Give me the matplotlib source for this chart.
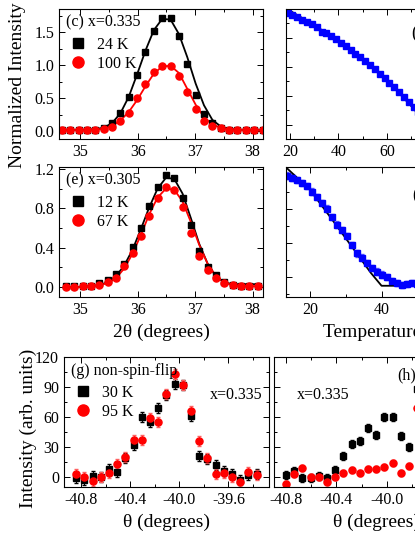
import numpy as np
import matplotlib
matplotlib.use('Agg')
import matplotlib.pyplot as plt
from matplotlib.lines import Line2D
from matplotlib.ticker import MultipleLocator

plt.rcParams['font.family'] = ['Liberation Serif', 'DejaVu Serif']
plt.rcParams['mathtext.fontset'] = 'stix'

# ---- (c) x=0.335, 2theta scans
c_tth = [34.68 + 0.1455 * i for i in range(25)]
c_24K = [0.02, 0.02, 0.02, 0.02, 0.02, 0.05, 0.13, 0.27, 0.51, 0.85, 1.20, 1.52,
         1.72, 1.71, 1.44, 1.01, 0.55, 0.26, 0.12, 0.05, 0.02, 0.02, 0.02, 0.02, 0.02]
c_100K = [0.02, 0.02, 0.02, 0.02, 0.02, 0.03, 0.065, 0.16, 0.28, 0.50, 0.71, 0.90,
          0.98, 0.98, 0.84, 0.59, 0.33, 0.16, 0.07, 0.04, 0.02, 0.02, 0.02, 0.02, 0.02]
c_24K_fit = [0.02, 0.02, 0.02, 0.02, 0.03, 0.05, 0.12, 0.27, 0.52, 0.86, 1.22, 1.53,
             1.70, 1.69, 1.47, 1.12, 0.72, 0.39, 0.17, 0.07, 0.03, 0.02, 0.02, 0.02, 0.02]
c_100K_fit = [0.02, 0.02, 0.02, 0.02, 0.02, 0.04, 0.08, 0.16, 0.29, 0.47, 0.68, 0.87,
              0.98, 0.99, 0.88, 0.64, 0.40, 0.21, 0.10, 0.05, 0.03, 0.02, 0.02, 0.02, 0.02]

# ---- (e) x=0.305
e_tth = [34.75 + 0.145 * i for i in range(24)]
e_12K = [0.01, 0.01, 0.01, 0.015, 0.045, 0.07, 0.13, 0.24, 0.41, 0.60, 0.82, 1.02,
         1.14, 1.105, 0.91, 0.63, 0.37, 0.20, 0.12, 0.05, 0.02, 0.01, 0.01, 0.01]
e_67K = [0.005, 0.005, 0.01, 0.015, 0.02, 0.055, 0.095, 0.21, 0.35, 0.52, 0.72, 0.91,
         1.02, 0.99, 0.81, 0.55, 0.32, 0.17, 0.09, 0.045, 0.02, 0.01, 0.01, 0.01]
e_12K_fit = [0.0, 0.0, 0.005, 0.01, 0.02, 0.05, 0.11, 0.22, 0.38, 0.59, 0.81, 1.00,
             1.11, 1.10, 0.95, 0.70, 0.44, 0.24, 0.11, 0.05, 0.03, 0.03, 0.03, 0.03]
e_67K_fit = [0.0, 0.0, 0.0, 0.01, 0.02, 0.04, 0.09, 0.19, 0.34, 0.53, 0.74, 0.91,
             1.00, 0.99, 0.87, 0.66, 0.43, 0.24, 0.11, 0.05, 0.02, 0.01, 0.01, 0.01]

# ---- (d) temperature dependence
d_T = [19, 21, 23, 25, 27, 29, 31, 33, 35, 37, 39, 41, 43, 45, 47, 49, 51, 53, 55,
       57, 59, 61, 63, 65, 67, 69, 71, 73]
d_I = [4.86, 4.79, 4.72, 4.62, 4.55, 4.48, 4.38, 4.20, 4.17, 4.06, 3.96, 3.82, 3.72,
       3.58, 3.44, 3.34, 3.20, 3.06, 2.92, 2.75, 2.61, 2.44, 2.30, 2.13, 1.95, 1.78,
       1.61, 1.43]
d_fit_T = [18.2, 25, 30, 35, 40, 45, 50, 55, 60, 65, 70, 75]
d_fit_I = [5.03, 4.69, 4.44, 4.17, 3.89, 3.58, 3.27, 2.89, 2.51, 2.09, 1.64, 1.16]

# ---- (f) temperature dependence
f_T = [13.7, 15.0, 16.4, 17.8, 19.2, 20.6, 22.0, 23.4, 24.8, 26.2, 27.6, 29.0, 30.4,
       31.8, 33.2, 34.6, 36.0, 37.4, 38.8, 40.2, 41.6, 43.0, 44.4, 45.8, 47.2, 48.6, 50.0]
f_I = [3.98, 3.92, 3.86, 3.77, 3.68, 3.51, 3.36, 3.18, 3.01, 2.77, 2.54, 2.39, 2.21,
       1.95, 1.71, 1.57, 1.42, 1.27, 1.16, 1.07, 1.01, 0.89, 0.83, 0.77, 0.80, 0.83, 0.80]
f_fit_T = [13.2, 20, 26.5, 33, 37, 40, 75]
f_fit_I = [4.24, 3.57, 2.65, 1.71, 1.13, 0.75, 0.75]

# ---- (g) non-spin-flip theta scans
g_th = [-40.84 + 0.0668 * i for i in range(23)]
g_30K = [-1, -3, 1.3, 0.3, 7.7, 5.3, 19, 32, 60, 55, 68.7, 82, 93, 92, 61, 21, 17.7,
         12, 6.3, 2.7, -3, 2.3, 3]
g_95K = [2.7, 0.3, -4, 0, 3.7, 12.7, 19.7, 37, 37, 58.7, 55.3, 82.7, 102.7, 92, 66,
         36, 18.7, 2.7, 3.7, 0.3, -4.7, 4.7, 2]

# ---- (h) theta scans
h_th = [-40.80 + 0.065 * i for i in range(17)]
h_30K = [2, 6.3, -0.7, -0.7, 1.3, -0.7, 7, 21.3, 32.7, 36, 49.3, 42, 60.3, 59.7, 41,
         29.7, 87.7]
h_95K = [-7, 2.7, 9.3, 0.3, 0.3, -5.3, 0.3, 4.3, 7, 3.7, 8, 7.7, 10.3, 14.3, 4.3, 11,
         68.7]

W, H = 415, 537
fig = plt.figure(figsize=(W / 100, H / 100), dpi=100)

def box(l, t, r, b):
    return [l / W, 1 - b / H, (r - l) / W, (b - t) / H]

ax_c = fig.add_axes(box(59, 9, 263, 139))
ax_d = fig.add_axes(box(286, 9, 490, 139))
ax_e = fig.add_axes(box(59, 167, 263, 297))
ax_f = fig.add_axes(box(286, 167, 490, 297))
ax_g = fig.add_axes(box(64, 357, 269, 487))
ax_h = fig.add_axes(box(274, 357, 479, 487))

TS = 11.5
for ax in [ax_c, ax_d, ax_e, ax_f, ax_g, ax_h]:
    ax.tick_params(which='both', direction='in', top=True, right=True,
                   labelsize=TS, width=0.7)
    ax.tick_params(which='major', length=4)
    ax.tick_params(which='minor', length=2)
    for s in ax.spines.values():
        s.set_linewidth(0.8)

ms = 4.6
# (c)
ax_c.plot(c_tth, c_24K_fit, '-', color='black', lw=1.3)
ax_c.plot(c_tth, c_100K_fit, '-', color='red', lw=1.3)
ax_c.plot(c_tth, c_24K, 's', color='black', ms=ms)
ax_c.plot(c_tth, c_100K, 'o', color='red', ms=ms + 0.5)
ax_c.set_xlim(34.63, 38.18)
ax_c.set_ylim(-0.12, 1.85)
ax_c.xaxis.set_major_locator(MultipleLocator(1))
ax_c.xaxis.set_minor_locator(MultipleLocator(0.5))
ax_c.yaxis.set_minor_locator(MultipleLocator(0.25))
ax_c.set_yticks([0, 0.5, 1.0, 1.5])
ax_c.set_yticklabels(['0.0', '0.5', '1.0', '1.5'])

# (e)
ax_e.plot(e_tth, e_12K_fit, '-', color='black', lw=1.3)
ax_e.plot(e_tth, e_67K_fit, '-', color='red', lw=1.3)
ax_e.plot(e_tth, e_12K, 's', color='black', ms=ms)
ax_e.plot(e_tth, e_67K, 'o', color='red', ms=ms + 0.5)
ax_e.set_xlim(34.63, 38.18)
ax_e.set_ylim(-0.1, 1.22)
ax_e.xaxis.set_major_locator(MultipleLocator(1))
ax_e.xaxis.set_minor_locator(MultipleLocator(0.5))
ax_e.set_yticks([0, 0.4, 0.8, 1.2])
ax_e.set_yticklabels(['0.0', '0.4', '0.8', '1.2'])
ax_e.yaxis.set_minor_locator(MultipleLocator(0.2))
ax_e.set_xlabel('2θ (degrees)', fontsize=14, labelpad=4)

# (d)
ax_d.errorbar(d_T, d_I, yerr=0.05, fmt='s', color='blue', ms=ms, ecolor='#5a5aff',
              elinewidth=0.8, capsize=1.5)
ax_d.plot(d_fit_T, d_fit_I, '-', color='black', lw=1.3)
ax_d.set_xlim(18.35, 102.5)
ax_d.set_ylim(0.5, 5.0)
ax_d.xaxis.set_major_locator(MultipleLocator(20))
ax_d.xaxis.set_minor_locator(MultipleLocator(10))
ax_d.yaxis.set_major_locator(MultipleLocator(1))
ax_d.yaxis.set_minor_locator(MultipleLocator(0.5))
ax_d.tick_params(axis='y', labelleft=False)
ax_d.text(0.615, 0.815, '(d)', transform=ax_d.transAxes, fontsize=13, va='center')

# (f)
ax_f.errorbar(f_T, f_I, yerr=0.1, fmt='s', color='blue', ms=ms, ecolor='#5a5aff',
              elinewidth=0.8, capsize=1.5)
ax_f.plot(f_fit_T, f_fit_I, '-', color='black', lw=1.3)
ax_f.set_xlim(13.3, 70.3)
ax_f.set_ylim(0.42, 4.24)
ax_f.xaxis.set_major_locator(MultipleLocator(20))
ax_f.xaxis.set_minor_locator(MultipleLocator(10))
ax_f.yaxis.set_major_locator(MultipleLocator(1))
ax_f.yaxis.set_minor_locator(MultipleLocator(0.5))
ax_f.tick_params(axis='y', labelleft=False)
ax_f.set_xlabel('Temperature (K)', fontsize=14, labelpad=4)
ax_f.text(0.62, 0.785, '(f)', transform=ax_f.transAxes, fontsize=13, va='center')

# (g)
ax_g.errorbar(g_th, g_30K, yerr=5, fmt='s', color='black', ms=ms, elinewidth=0.8,
              capsize=1.5)
ax_g.errorbar(g_th, g_95K, yerr=5, fmt='o', color='red', ms=ms + 0.5,
              ecolor='#ff6060', elinewidth=0.8, capsize=1.5)
ax_g.set_xlim(-40.94, -39.27)
ax_g.set_ylim(-10, 120)
ax_g.set_xticks([-40.8, -40.4, -40.0, -39.6])
ax_g.set_xticklabels(['-40.8', '-40.4', '-40.0', '-39.6'])
ax_g.xaxis.set_minor_locator(MultipleLocator(0.2))
ax_g.yaxis.set_major_locator(MultipleLocator(30))
ax_g.yaxis.set_minor_locator(MultipleLocator(15))
ax_g.set_xlabel('θ (degrees)', fontsize=14, labelpad=4)
ax_g.text(0.71, 0.68, 'x=0.335', transform=ax_g.transAxes, fontsize=TS)

# (h)
ax_h.errorbar(h_th, h_30K, yerr=4, fmt='s', color='black', ms=ms, elinewidth=0.8,
              capsize=1.5)
ax_h.errorbar(h_th, h_95K, yerr=3, fmt='o', color='red', ms=ms + 0.5,
              ecolor='#ff6060', elinewidth=0.8, capsize=1.5)
ax_h.set_xlim(-40.895, -39.27)
ax_h.set_ylim(-10, 120)
ax_h.set_xticks([-40.8, -40.4, -40.0, -39.6])
ax_h.set_xticklabels(['-40.8', '-40.4', '-40.0', '-39.6'])
ax_h.xaxis.set_minor_locator(MultipleLocator(0.2))
ax_h.yaxis.set_major_locator(MultipleLocator(30))
ax_h.yaxis.set_minor_locator(MultipleLocator(15))
ax_h.tick_params(axis='y', labelleft=False)
ax_h.set_xlabel('θ (degrees)', fontsize=14, labelpad=4)
ax_h.text(0.11, 0.68, 'x=0.335', transform=ax_h.transAxes, fontsize=TS)
ax_h.text(0.60, 0.83, '(h)', transform=ax_h.transAxes, fontsize=TS)

# legends
def leg(ax, title, labels, y0):
    ax.text(0.035, 0.955, title, transform=ax.transAxes, fontsize=TS, va='top')
    hs = [Line2D([], [], ls='none', marker='s', color='black', ms=6.5),
          Line2D([], [], ls='none', marker='o', color='red', ms=8)]
    ax.legend(hs, labels, loc='upper left', bbox_to_anchor=(0.0, y0), frameon=False,
              fontsize=TS, handlelength=1.2, handletextpad=0.6, labelspacing=0.2,
              borderaxespad=0.2)

leg(ax_c, '(c) x=0.335', ['24 K', '100 K'], 0.86)
leg(ax_e, '(e) x=0.305', ['12 K', '67 K'], 0.86)
leg(ax_g, '(g) non-spin-flip', ['30 K', '95 K'], 0.86)

fig.text(17 / W, 1 - 85 / H, 'Normalized Intensity', rotation=90, fontsize=14,
         ha='center', va='center')
fig.text(28 / W, 1 - 428 / H, 'Intensity (arb. units)', rotation=90, fontsize=14,
         ha='center', va='center')

fig.savefig('out.png', dpi=100)
